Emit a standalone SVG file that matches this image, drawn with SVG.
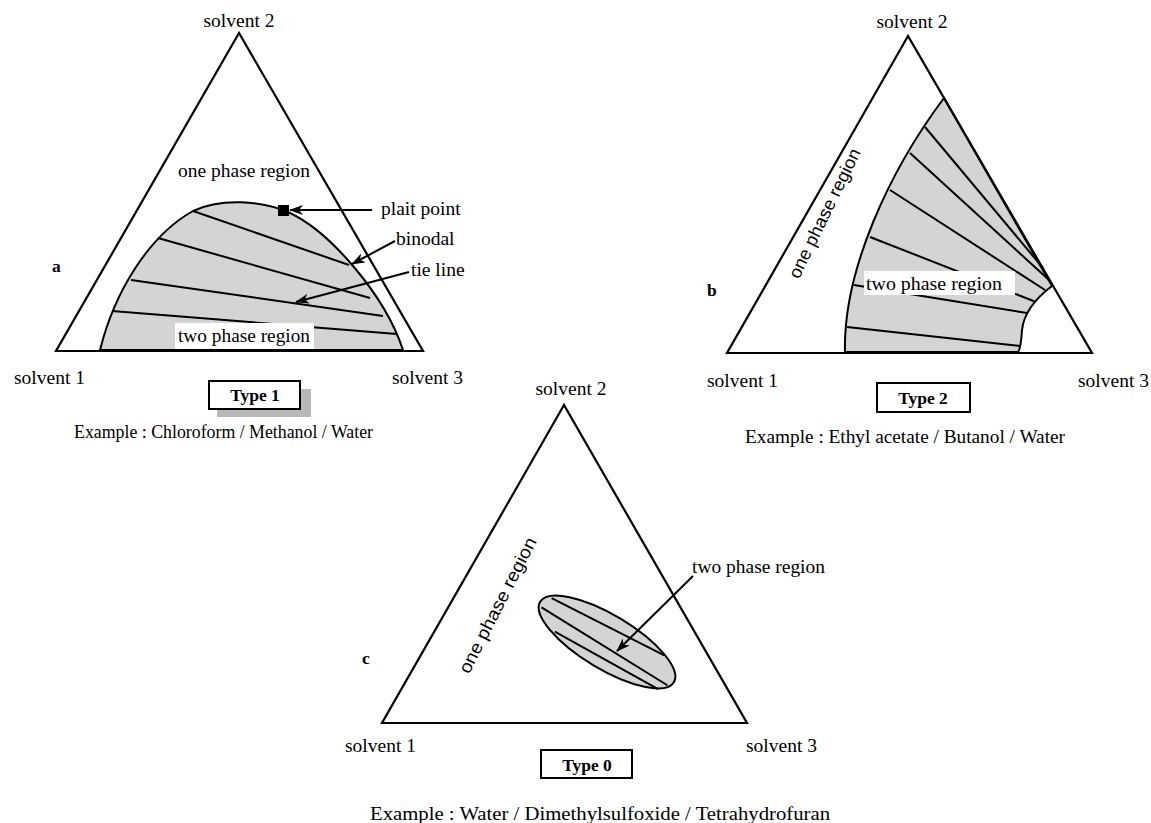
<svg xmlns="http://www.w3.org/2000/svg" width="1151" height="823" viewBox="0 0 1151 823">
<style>
  .tri{fill:none;stroke:#000;stroke-width:2.2;stroke-linejoin:miter}
  .reg{fill:#d4d4d4;stroke:#000;stroke-width:2}
  .tie{fill:none;stroke:#000;stroke-width:2}
  .t{font-family:"Liberation Serif","Times New Roman",serif;font-size:19.5px;fill:#000}
  .e{font-family:"Liberation Serif","Times New Roman",serif;font-size:18px;fill:#000}
  .s{font-family:"Liberation Sans",Arial,sans-serif;font-size:18px;fill:#000}
  .b{font-family:"Liberation Serif","Times New Roman",serif;font-size:17.5px;font-weight:bold;fill:#000}
  .box{fill:#fff;stroke:#000;stroke-width:2}
  .arr{fill:none;stroke:#000;stroke-width:2;marker-end:url(#ah)}
  .mask{fill:#fff;stroke:none}
</style>
<defs>
  <marker id="ah" markerWidth="14" markerHeight="10" refX="13" refY="5" orient="auto" markerUnits="userSpaceOnUse">
    <path d="M0,0 L14,5 L0,10 L4,5 z" fill="#000"/>
  </marker>
</defs>
<rect width="1151" height="823" fill="#fff"/>

<!-- Diagram a -->
<g id="diagram-a">
  <path class="reg" d="M100,350 C115,290 150,235 193,211 C220,198 262,200 290,213 C330,232 385,295 403,350 Z"/>
  <g class="tie">
    <line x1="193" y1="211" x2="349" y2="265"/>
    <line x1="158" y1="238" x2="370" y2="298"/>
    <line x1="131" y1="280" x2="383" y2="316"/>
    <line x1="112" y1="311" x2="397" y2="334"/>
  </g>
  <polygon class="tri" points="239,33 56,351 423,351"/>
  <rect class="mask" x="175" y="323" width="139" height="26"/>
  <rect x="278" y="205" width="11" height="11" fill="#000"/>
  <text class="t" x="239" y="27" text-anchor="middle">solvent 2</text>
  <text class="t" x="244" y="177" text-anchor="middle" textLength="132" lengthAdjust="spacingAndGlyphs">one phase region</text>
  <text class="t" x="244" y="342" text-anchor="middle" textLength="132" lengthAdjust="spacingAndGlyphs">two phase region</text>
  <text class="t" x="14" y="384">solvent 1</text>
  <text class="t" x="392" y="384">solvent 3</text>
  <text class="b" x="52" y="272">a</text>
  <text class="t" x="381" y="215">plait point</text>
  <text class="t" x="396" y="245">binodal</text>
  <text class="t" x="411" y="276">tie line</text>
  <rect x="217" y="389" width="94" height="28" fill="#b8b8b8"/>
  <rect class="box" x="209" y="381" width="91" height="28"/>
  <text class="b" x="255" y="401" text-anchor="middle">Type 1</text>
  <text class="e" x="74" y="438" textLength="299" lengthAdjust="spacingAndGlyphs">Example : Chloroform / Methanol / Water</text>
</g>

<!-- Diagram b -->
<g id="diagram-b">
  <path class="reg" d="M845,352 C843,270 890,170 944,98 L1052,286 C1036,298 1024,312 1022,330 Q1021,348 1018,352 Z"/>
  <g class="tie">
    <line x1="925" y1="127" x2="1043" y2="268"/>
    <line x1="910" y1="153" x2="1049" y2="280"/>
    <line x1="890" y1="190" x2="1045" y2="290"/>
    <line x1="870" y1="237" x2="1036" y2="302"/>
    <line x1="854" y1="285" x2="1027" y2="313"/>
    <line x1="847" y1="327" x2="1020" y2="346"/>
  </g>
  <polygon class="tri" points="908,36 727,353 1092,353"/>
  <rect class="mask" x="864" y="271" width="151" height="24"/>
  <text class="t" x="912" y="28" text-anchor="middle">solvent 2</text>
  <text class="s" transform="translate(830,216) rotate(-64)" text-anchor="middle" textLength="142" lengthAdjust="spacingAndGlyphs">one phase region</text>
  <text class="t" x="866" y="290" textLength="136" lengthAdjust="spacingAndGlyphs">two phase region</text>
  <text class="b" x="707" y="296">b</text>
  <text class="t" x="707" y="387">solvent 1</text>
  <text class="t" x="1078" y="387">solvent 3</text>
  <rect class="box" x="877" y="383" width="93" height="29"/>
  <text class="b" x="923" y="404" text-anchor="middle">Type 2</text>
  <text class="e" x="745" y="443" textLength="320" lengthAdjust="spacingAndGlyphs">Example : Ethyl acetate / Butanol / Water</text>
</g>

<!-- Diagram c -->
<g id="diagram-c">
  <g transform="translate(607,642) rotate(31)">
    <ellipse class="reg" cx="0" cy="0" rx="78" ry="27"/>
    <line class="tie" x1="-70" y1="-9" x2="56" y2="-18"/>
    <line class="tie" x1="-74" y1="4" x2="74" y2="6"/>
    <line class="tie" x1="-50" y1="18" x2="68" y2="14"/>
  </g>
  <polygon class="tri" points="564,405 382,723 747,723"/>
  <text class="t" x="571" y="395" text-anchor="middle">solvent 2</text>
  <text class="s" transform="translate(503,608) rotate(-63)" text-anchor="middle" textLength="150" lengthAdjust="spacingAndGlyphs">one phase region</text>
  <text class="t" x="692" y="573" textLength="133" lengthAdjust="spacingAndGlyphs">two phase region</text>
  <text class="b" x="362" y="664">c</text>
  <text class="t" x="345" y="752">solvent 1</text>
  <text class="t" x="746" y="752">solvent 3</text>
  <rect class="box" x="541" y="750" width="91" height="28"/>
  <text class="b" x="587" y="771" text-anchor="middle">Type 0</text>
  <text class="e" x="370" y="820" textLength="460" lengthAdjust="spacingAndGlyphs">Example : Water / Dimethylsulfoxide / Tetrahydrofuran</text>
</g>

<!-- Connectors (callout arrows) -->
<g id="connectors">
  <line class="arr" x1="372" y1="210" x2="290" y2="210"/>
  <line class="arr" x1="395" y1="241" x2="352" y2="264"/>
  <line class="arr" x1="409" y1="272" x2="296" y2="302"/>
  <line class="arr" x1="693" y1="576" x2="617" y2="651"/>
</g>
</svg>
